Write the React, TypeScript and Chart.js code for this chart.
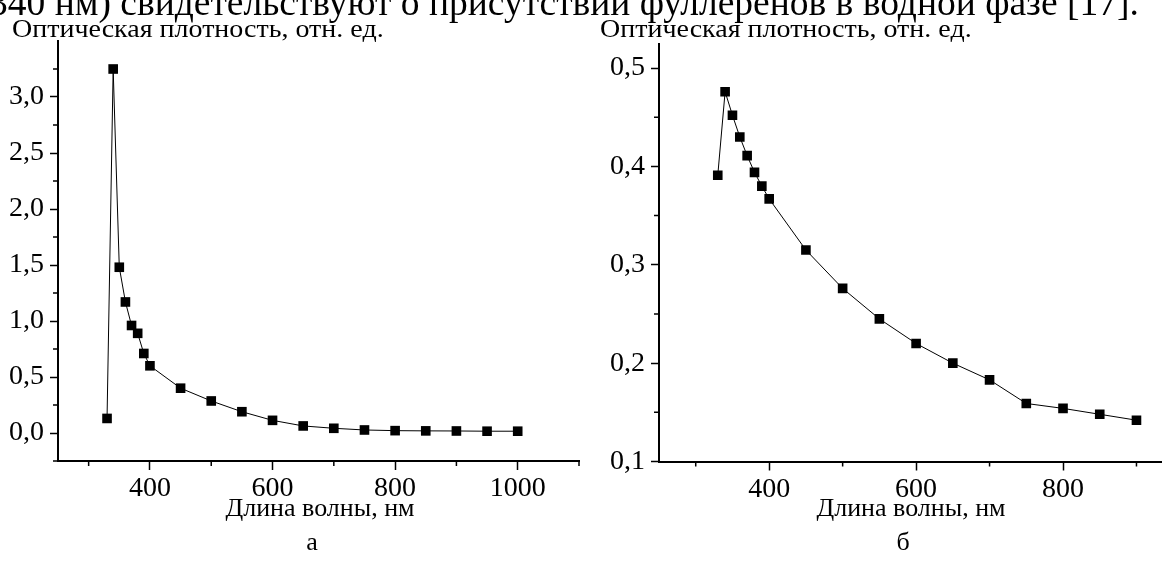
import React, { useEffect, useRef } from "react";
import { Chart, registerables } from "chart.js";

Chart.register(...registerables);

// ---- data ----
const wavelengthA = [330, 340, 350, 360, 370, 380, 390, 400, 450, 500, 550, 600, 650, 700, 750, 800, 850, 900, 950, 1000];
const densityA = [0.13, 3.25, 1.48, 1.17, 0.96, 0.89, 0.71, 0.6, 0.4, 0.286, 0.19, 0.113, 0.063, 0.042, 0.027, 0.021, 0.019, 0.018, 0.016, 0.016];

const wavelengthB = [330, 340, 350, 360, 370, 380, 390, 400, 450, 500, 550, 600, 650, 700, 750, 800, 850, 900];
const densityB = [0.391, 0.476, 0.452, 0.43, 0.411, 0.394, 0.38, 0.367, 0.315, 0.276, 0.245, 0.22, 0.2, 0.183, 0.159, 0.154, 0.148, 0.142];

const xMajorA = [400, 600, 800, 1000];
const xMinorA = [300, 500, 700, 900, 1100];
const yMajorA = [0, 0.5, 1, 1.5, 2, 2.5, 3];
const yMinorA = [-0.25, 0.25, 0.75, 1.25, 1.75, 2.25, 2.75, 3.25];

const xMajorB = [400, 600, 800];
const xMinorB = [300, 500, 700, 900];
const yMajorB = [0.1, 0.2, 0.3, 0.4, 0.5];
const yMinorB = [0.15, 0.25, 0.35, 0.45];

const topText = "340 нм) свидетельствуют о присутствии фуллеренов в водной фазе [17].";
const yTitle = "Оптическая плотность, отн. ед.";
const xTitle = "Длина волны, нм";
const labelA = "а";
const labelB = "б";

const FONT = "'Liberation Serif', 'DejaVu Serif', serif";
const TICK_SIZE = 28;

type Cfg = {
  xs: number[];
  ys: number[];
  xMin: number;
  xMax: number;
  yMin: number;
  yMax: number;
  xMajor: number[];
  xMinor: number[];
  yMajor: number[];
  yMinor: number[];
  yAxisWidth: number;
  padTop: number;
  padRight: number;
  xAxisHeight: number;
};

function minorTicksPlugin(xMinor: number[], yMinor: number[]) {
  return {
    id: "minorTicks",
    afterDraw(chart: any) {
      const { ctx, chartArea, scales } = chart;
      ctx.save();
      ctx.strokeStyle = "#000";
      ctx.lineWidth = 1.5;
      ctx.beginPath();
      xMinor.forEach((v) => {
        const x = scales.x.getPixelForValue(v);
        ctx.moveTo(x, chartArea.bottom);
        ctx.lineTo(x, chartArea.bottom + 5);
      });
      yMinor.forEach((v) => {
        const y = scales.y.getPixelForValue(v);
        ctx.moveTo(chartArea.left - 5, y);
        ctx.lineTo(chartArea.left, y);
      });
      ctx.stroke();
      ctx.restore();
    },
  };
}

function makeChart(canvas: HTMLCanvasElement, c: Cfg) {
  return new Chart(canvas, {
    type: "scatter",
    data: {
      datasets: [
        {
          data: c.xs.map((x, i) => ({ x, y: c.ys[i] })),
          showLine: true,
          borderColor: "#000",
          borderWidth: 1,
          pointStyle: "rect",
          pointRadius: 6.8,
          pointBackgroundColor: "#000",
          pointBorderColor: "#000",
          pointBorderWidth: 0,
        },
      ],
    },
    options: {
      animation: false,
      responsive: false,
      devicePixelRatio: 1,
      layout: { padding: { top: c.padTop, right: c.padRight, left: 0, bottom: 0 } },
      plugins: { legend: { display: false }, tooltip: { enabled: false }, title: { display: false } },
      scales: {
        x: {
          type: "linear",
          position: "bottom",
          min: c.xMin,
          max: c.xMax,
          afterBuildTicks: (s: any) => {
            s.ticks = c.xMajor.map((v) => ({ value: v }));
          },
          afterFit: (s: any) => {
            s.height = c.xAxisHeight;
          },
          ticks: {
            color: "#000",
            font: { family: FONT, size: TICK_SIZE },
            padding: 2,
            maxRotation: 0,
            autoSkip: false,
            callback: (v: any) => String(v),
          },
          grid: { drawOnChartArea: false, drawTicks: true, tickLength: 9, tickWidth: 1.5, tickColor: "#000" },
          border: { display: true, color: "#000", width: 2 },
        },
        y: {
          type: "linear",
          position: "left",
          min: c.yMin,
          max: c.yMax,
          afterBuildTicks: (s: any) => {
            s.ticks = c.yMajor.map((v) => ({ value: v }));
          },
          afterFit: (s: any) => {
            s.width = c.yAxisWidth;
          },
          ticks: {
            color: "#000",
            font: { family: FONT, size: TICK_SIZE },
            padding: 6,
            autoSkip: false,
            callback: (v: any) => Number(v).toFixed(1).replace(".", ","),
          },
          grid: { drawOnChartArea: false, drawTicks: true, tickLength: 8, tickWidth: 1.5, tickColor: "#000" },
          border: { display: true, color: "#000", width: 2 },
        },
      },
    },
    plugins: [minorTicksPlugin(c.xMinor, c.yMinor)],
  } as any);
}

const textStyle = (size: number): React.CSSProperties => ({
  position: "absolute",
  fontFamily: FONT,
  fontSize: size,
  lineHeight: 1,
  color: "#000",
  whiteSpace: "nowrap",
});

const subtitleStyle: React.CSSProperties = {
  ...textStyle(25),
  transform: "scaleX(1.12)",
  transformOrigin: "left top",
};

export default function App() {
  const refA = useRef<HTMLCanvasElement>(null);
  const refB = useRef<HTMLCanvasElement>(null);

  useEffect(() => {
    const a = makeChart(refA.current!, {
      xs: wavelengthA,
      ys: densityA,
      xMin: 250,
      xMax: 1100,
      yMin: -0.25,
      yMax: 3.5,
      xMajor: xMajorA,
      xMinor: xMinorA,
      yMajor: yMajorA,
      yMinor: yMinorA,
      yAxisWidth: 58,
      padTop: 41,
      padRight: 21,
      xAxisHeight: 100,
    });
    const b = makeChart(refB.current!, {
      xs: wavelengthB,
      ys: densityB,
      xMin: 250,
      xMax: 950,
      yMin: 0.1,
      yMax: 0.525,
      xMajor: xMajorB,
      xMinor: xMinorB,
      yMajor: yMajorB,
      yMinor: yMinorB,
      yAxisWidth: 59,
      padTop: 43.5,
      padRight: 4,
      xAxisHeight: 99.5,
    });
    return () => {
      a.destroy();
      b.destroy();
    };
  }, []);

  return (
    <div
      style={{
        position: "absolute",
        left: 0,
        top: 0,
        width: 1162,
        height: 561,
        overflow: "hidden",
        background: "#fff",
      }}
    >
      <canvas ref={refA} width={600} height={561} style={{ position: "absolute", left: 0, top: 0 }} />
      <canvas ref={refB} width={580} height={561} style={{ position: "absolute", left: 600, top: 0 }} />
      <div style={{ ...textStyle(37.5), left: -11, top: -16 }}>{topText}</div>
      <div style={{ ...subtitleStyle, left: 12, top: 16 }}>{yTitle}</div>
      <div style={{ ...subtitleStyle, left: 600, top: 16 }}>{yTitle}</div>
      <div style={{ ...textStyle(26), left: 170, width: 300, top: 495, textAlign: "center" }}>{xTitle}</div>
      <div style={{ ...textStyle(26), left: 761, width: 300, top: 495, textAlign: "center" }}>{xTitle}</div>
      <div style={{ ...textStyle(26), left: 262, width: 100, top: 529, textAlign: "center" }}>{labelA}</div>
      <div style={{ ...textStyle(26), left: 853, width: 100, top: 529, textAlign: "center" }}>{labelB}</div>
    </div>
  );
}
